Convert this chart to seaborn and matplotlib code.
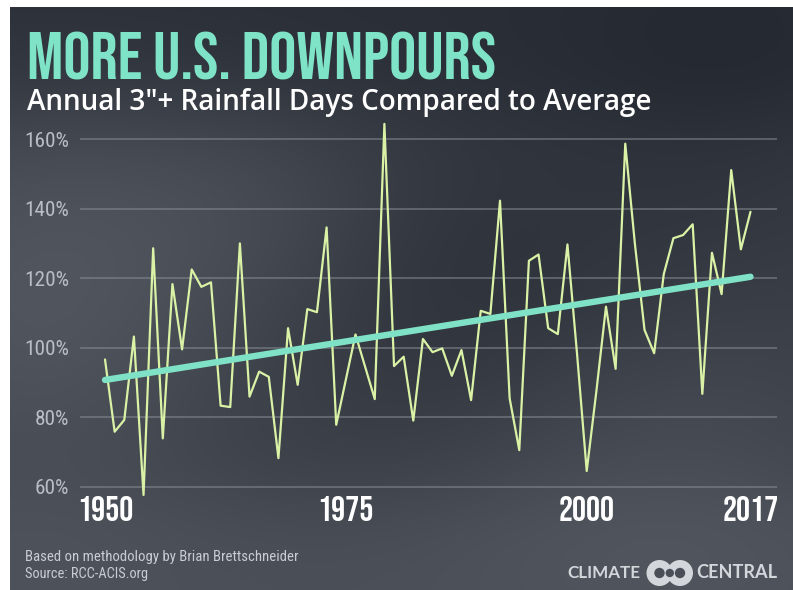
import numpy as np
import pandas as pd
import matplotlib
matplotlib.use("Agg")
import matplotlib.pyplot as plt
from matplotlib import font_manager
from matplotlib.patches import Ellipse
import seaborn as sns

# ---------------- data ----------------
years = list(range(1950, 2018))
pct_of_average = [
    96.7, 75.9, 79.3, 103.3, 57.7, 128.7, 74.0, 118.4, 99.6, 122.6,   # 1950-59
    117.6, 118.9, 83.4, 83.0, 130.1, 86.0, 93.2, 91.7, 68.3, 105.7,   # 1960-69
    89.4, 111.2, 110.3, 134.7, 77.9, 90.9, 103.9, 94.6, 85.3, 164.5,  # 1970-79
    94.8, 97.5, 79.1, 102.6, 98.8, 99.9, 92.0, 99.4, 85.0, 110.7,     # 1980-89
    109.8, 142.4, 85.5, 70.6, 125.1, 126.9, 105.7, 104.0, 129.8, 98.2,  # 1990-99
    64.6, 87.5, 111.9, 94.0, 158.8, 130.0, 105.2, 98.5, 121.3, 131.6,   # 2000-09
    132.5, 135.6, 86.8, 127.4, 115.5, 151.2, 128.4, 139.2,              # 2010-17
]
trend_years = [1950, 2017]
trend_values = [90.8, 120.5]
y_ticks = [60, 80, 100, 120, 140, 160]
x_ticks = [1950, 1975, 2000, 2017]

title = "MORE U.S. DOWNPOURS"
subtitle = "Annual 3\u2033+ Rainfall Days Compared to Average"
footer1 = "Based on methodology by Brian Brettschneider"
footer2 = "Source: RCC-ACIS.org"

df = pd.DataFrame({"year": years, "pct": pct_of_average})
trend = pd.DataFrame({"year": trend_years, "pct": trend_values})

# ---------------- fonts ----------------
available = {f.name for f in font_manager.fontManager.ttflist}
def pick(*names):
    for n in names:
        if n in available:
            return n
    return "DejaVu Sans"

DISPLAY = pick("Bebas Neue", "League Gothic", "Oswald", "Fjalla One", "Anton", "Roboto Condensed")
COND = pick("Roboto Condensed", "Pathway Gothic One", "Open Sans Condensed", "Oswald", "Archivo Narrow")
SUB = pick("Open Sans", "Lato", "DejaVu Sans")
LOGO = pick("Lato", "Open Sans", "DejaVu Sans")

sns.set_theme(style="white")
plt.rcParams["font.family"] = [COND, "DejaVu Sans"]

W, H = 793, 590
fig = plt.figure(figsize=(W / 100, H / 100), dpi=100)
fig.patch.set_facecolor("white")

# ---------------- background (stormy gradient) ----------------
bg = fig.add_axes([10 / W, 0, (W - 10) / W, (H - 7) / H], zorder=-10)
yy, xx = np.mgrid[7:H, 10:W].astype(float)
def blob(cx, cy, sx, sy):
    return np.exp(-(((xx - cx) / sx) ** 2 + ((yy - cy) / sy) ** 2) / 2)
v = (0.38
     + 0.38 * blob(30, 300, 140, 150)
     + 0.18 * blob(260, 210, 120, 90)
     + 0.22 * blob(650, 450, 160, 110)
     + 0.30 / (1 + np.exp(-(yy - 500) / 30))
     - 0.25 / (1 + np.exp((yy - 110) / 30))
     - 0.20 * blob(470, 290, 140, 110)
     - 0.12 * blob(720, 120, 120, 120))
v = np.clip(v, 0, 1)
dark = np.array([0x22, 0x26, 0x2f]) / 255
light = np.array([0x5e, 0x62, 0x6a]) / 255
img = dark[None, None, :] * (1 - v[..., None]) + light[None, None, :] * v[..., None]
bg.imshow(img, aspect="auto", interpolation="bilinear")
bg.set_axis_off()

# ---------------- main axes ----------------
px_per_pct = 3.475
y_lo, y_hi = 59.5, 166.0
ax_top_px = 487 - (y_hi - 60) * px_per_pct
ax_bot_px = 487 + (60 - y_lo) * px_per_pct
left_px, right_px = 80, 777
ax = fig.add_axes([left_px / W, (H - ax_bot_px) / H,
                   (right_px - left_px) / W, (ax_bot_px - ax_top_px) / H])
ax.set_facecolor("none")
px_per_year = 9.634
ax.set_xlim(1950 - (105 - left_px) / px_per_year, 2017 + (right_px - 750.5) / px_per_year)
ax.set_ylim(y_lo, y_hi)

sns.lineplot(data=df, x="year", y="pct", ax=ax, color="#d9f2a6", linewidth=1.6,
             clip_on=False, zorder=3)
sns.lineplot(data=trend, x="year", y="pct", ax=ax, color="#7fe2c6", linewidth=4.6,
             solid_capstyle="round", zorder=4)

ax.set_yticks(y_ticks)
ax.set_yticklabels([f"{t}%" for t in y_ticks])
ax.set_xticks(x_ticks)
ax.set_xticklabels([str(t) for t in x_ticks])
ax.grid(axis="y", color="#8a8e96", alpha=0.55, linewidth=1.3)
ax.grid(axis="x", visible=False)
for s in ax.spines.values():
    s.set_visible(False)
ax.tick_params(axis="y", length=0, pad=7.5, labelcolor="#b9bdc4", labelsize=17)
ax.tick_params(axis="x", length=0, pad=5, labelcolor="white", labelsize=30)
for lab in ax.get_xticklabels():
    lab.set_family([DISPLAY, "DejaVu Sans"])
for lab in ax.get_yticklabels():
    lab.set_family([COND, "DejaVu Sans"])
ax.set_xlabel("")
ax.set_ylabel("")

# ---------------- texts ----------------
def fx(px):
    return px / W
def fy(px):
    return 1 - px / H

t_title = fig.text(fx(27), fy(80), title, color="#7fe3c8", fontsize=50,
                   family=[DISPLAY, "DejaVu Sans"], va="baseline")
t_sub = fig.text(fx(27), fy(110), subtitle, color="white", fontsize=18,
                 fontweight="semibold", family=[SUB, "DejaVu Sans"], va="baseline")
t_f1 = fig.text(fx(25), fy(561), footer1, color="#c9ccd2", fontsize=8.5,
                family=[COND, "DejaVu Sans"], va="baseline")
t_f2 = fig.text(fx(25), fy(578), footer2, color="#c9ccd2", fontsize=8.5,
                family=[COND, "DejaVu Sans"], va="baseline")
t_l1 = fig.text(fx(640), fy(578), "CLIMATE", color="#d3d6db", fontsize=11,
                fontweight="bold", family=[LOGO, "DejaVu Sans"], ha="right", va="baseline")
t_l2 = fig.text(fx(696), fy(578), "CENTRAL", color="#d3d6db", fontsize=11,
                fontweight="bold", family=[LOGO, "DejaVu Sans"], ha="left", va="baseline")

# fit text widths to the reference
fig.canvas.draw()
renderer = fig.canvas.get_renderer()
def fit(t, target_px):
    w = t.get_window_extent(renderer).width
    t.set_fontsize(t.get_fontsize() * target_px / w)
fit(t_title, 470)
fit(t_sub, 625)
fit(t_f1, 271)
fit(t_f2, 123)
fit(t_l1, 73)
fit(t_l2, 81)
xl = ax.get_xticklabels()[0]
w_x = xl.get_window_extent(renderer).width
ax.tick_params(axis="x", labelsize=30 * 56 / w_x)
yl = ax.get_yticklabels()[-1]
w_y = yl.get_window_extent(renderer).width
ax.tick_params(axis="y", labelsize=17 * 45 / w_y)

# Climate Central ring logo
ring_col = "#d3d6db"
hole_col = "#4a4e57"
def disk(cx, cy, r, col, z):
    fig.patches.append(Ellipse((fx(cx), fy(cy)), 2 * r / W, 2 * r / H,
                               transform=fig.transFigure, facecolor=col,
                               edgecolor="none", zorder=z))
disk(659.5, 573, 13, ring_col, 1)
disk(680.0, 573, 13, ring_col, 1)
disk(659.5, 573, 5.2, hole_col, 2)
disk(680.0, 573, 5.2, hole_col, 2)
disk(669.8, 573, 4.2, hole_col, 2)

fig.savefig("out.png", dpi=100, facecolor=fig.get_facecolor())
